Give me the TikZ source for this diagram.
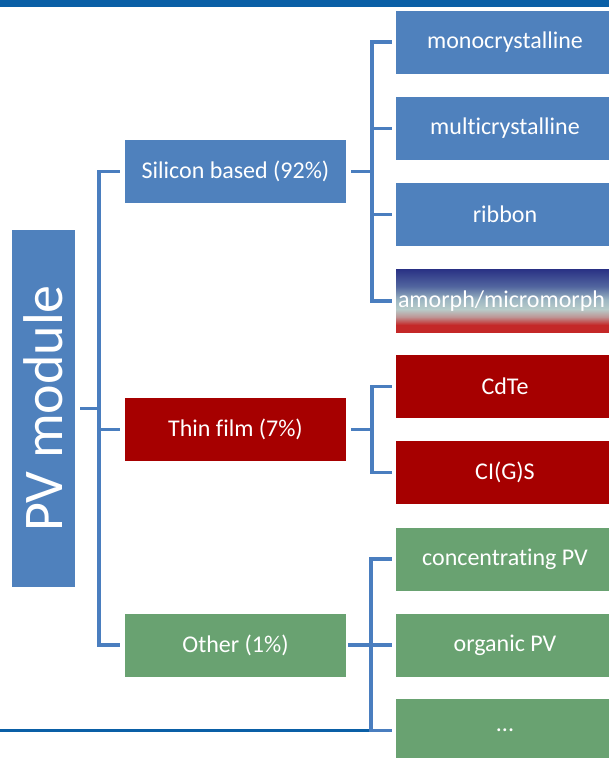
\documentclass[tikz,border=0pt]{standalone}
\usepackage{fontspec}
\setmainfont[Ligatures=NoCommon]{Carlito}
\definecolor{boxblue}{HTML}{4F81BD}
\definecolor{boxred}{HTML}{A60000}
\definecolor{boxgreen}{HTML}{69A271}
\definecolor{linecol}{HTML}{4A7EBF}
\definecolor{bandblue}{HTML}{0A5FA6}
\definecolor{gnavy}{HTML}{2A3285}
\definecolor{gmid}{HTML}{52669F}
\definecolor{glight}{HTML}{9CB6C2}
\definecolor{gpale}{HTML}{B8CCCA}
\definecolor{gpink}{HTML}{BE9696}
\definecolor{gred}{HTML}{C42828}
\pgfdeclareverticalshading{amorphshade}{100bp}{color(0bp)=(gred); color(25bp)=(gred); color(31bp)=(gred); color(37.5bp)=(gpink); color(43.5bp)=(gpale); color(51bp)=(glight); color(61.5bp)=(gmid); color(75bp)=(gnavy); color(100bp)=(gnavy)}
\begin{document}
\begin{tikzpicture}[x=1pt,y=-1pt,
  box/.style={rectangle, inner sep=0pt, minimum height=63pt, text=white,
    font=\fontsize{24}{28}\selectfont},
  mainbox/.style={box, minimum width=221pt},
  subbox/.style={box, minimum width=218pt},
  conn/.style={draw=linecol, line width=3.6pt, line join=miter},
  darkline/.style={draw=bandblue, line width=3.4pt}]
\useasboundingbox (0,0) rectangle (609,758);
\fill[white] (0,0) rectangle (609,758);
\fill[bandblue] (0,0) rectangle (609,6.5);

% PV module
\node[box, fill=boxblue, minimum width=63pt, minimum height=357pt] (pv) at (43.5,408.5) {};
\node[rotate=90, text=white, font=\fontsize{56}{60}\selectfont] (pvt) at (pv.center) {PV module};

% main boxes
\node[mainbox, fill=boxblue] (si) at (235.5,171.5) {Silicon based (92\%)};
\node[mainbox, fill=boxred] (tf) at (235.5,429.5) {Thin film (7\%)};
\node[mainbox, fill=boxgreen] (ot) at (235.5,645) {Other (1\%)};

% sub boxes
\node[subbox, fill=boxblue] (mono) at (505,42) {monocrystalline};
\node[subbox, fill=boxblue] (multi) at (505,128.5) {multicrystalline};
\node[subbox, fill=boxblue] (rib) at (505,214.5) {ribbon};
\node[subbox, shading=amorphshade] (amo) at (505,301) {};
\node[box, anchor=west] (amot) at ([xshift=2pt]amo.west) {amorph/micromorph};
\node[subbox, fill=boxred] (cdte) at (505,386.5) {CdTe};
\node[subbox, fill=boxred] (cigs) at (505,472.5) {CI(G)S};
\node[subbox, fill=boxgreen] (conc) at (505,559) {concentrating PV};
\node[subbox, fill=boxgreen] (org) at (505,645) {organic PV};
\node[subbox, fill=boxgreen] (dots) at (505,730.5) {...};

% trunk coordinates
\coordinate (tr) at (99,0);
\coordinate (s1) at (372,0);
\coordinate (s3) at (371,0);
\coordinate (left) at (0,730.5);

% main trunk
\draw[conn] ([xshift=5pt]pv.east) -- (pv.east -| tr);
\draw[conn] ([xshift=-5pt]si.west) -- (si.west -| tr) -- (ot.west -| tr) -- ([xshift=-5pt]ot.west);
\draw[conn] (tf.west -| tr) -- ([xshift=-5pt]tf.west);

% silicon branch
\draw[conn] ([xshift=5pt]si.east) -- (si.east -| s1);
\draw[conn] ([xshift=-4pt]mono.west) -- (mono.west -| s1) -- (amo.west -| s1) -- ([xshift=-4pt]amo.west);
\draw[conn] (multi.west -| s1) -- ([xshift=-4pt]multi.west);
\draw[conn] (rib.west -| s1) -- ([xshift=-4pt]rib.west);

% thin film branch
\draw[conn] ([xshift=5pt]tf.east) -- (tf.east -| s1);
\draw[conn] ([xshift=-4pt]cdte.west) -- (cdte.west -| s1) -- (cigs.west -| s1) -- ([xshift=-4pt]cigs.west);

% other branch
\draw[conn] ([xshift=2pt]ot.east) -- ([xshift=-4pt]org.west);
\draw[darkline] (left) -- (dots.west -| s3);
\draw[conn] ([xshift=-4pt]conc.west) -- (conc.west -| s3) -- (dots.west -| s3) -- ([xshift=-4pt]dots.west);
\end{tikzpicture}
\end{document}
